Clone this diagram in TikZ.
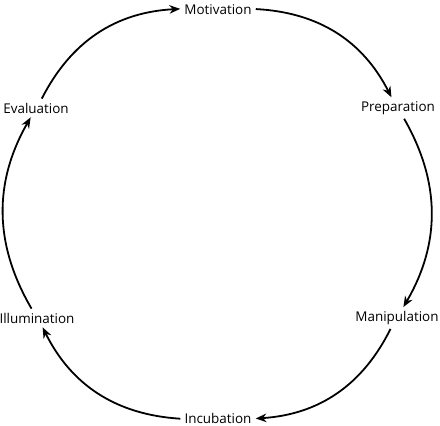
\documentclass[tikz,border=0pt]{standalone}
\usepackage{fontspec}
\setmainfont{Open Sans}
\usepackage{tikz}
\usetikzlibrary{arrows.meta,positioning,calc}
\tikzset{
  phase/.style={inner sep=4pt, font=\fontsize{13.5}{15}\selectfont},
  arr/.style={-{Stealth[length=3.8mm,width=3mm]}, line width=1.8pt, draw=black},
}
\begin{document}
\begin{tikzpicture}[x=1bp,y=1bp]
    \useasboundingbox (0,0) rectangle (440,425);
    \node[phase] (mot)   at (218,415) {Motivation};
    \node[phase] (prep)  at (398,317) {Preparation};
    \node[phase] (manip) at (397,107) {Manipulation};
    \node[phase] (incub) at (218,7)   {Incubation};
    \node[phase] (illum) at (37,107)  {Illumination};
    \node[phase] (eval)  at (36,317)  {Evaluation};
    \draw[arr] (mot) to[bend left=30] (prep);
    \draw[arr] (prep) to[bend left=30] (manip);
    \draw[arr] (manip) to[bend left=30] (incub);
    \draw[arr] (incub) to[bend left=30] (illum);
    \draw[arr] (illum) to[bend left=30] (eval);
    \draw[arr] (eval) to[bend left=30] (mot);
  \end{tikzpicture}
\end{document}
